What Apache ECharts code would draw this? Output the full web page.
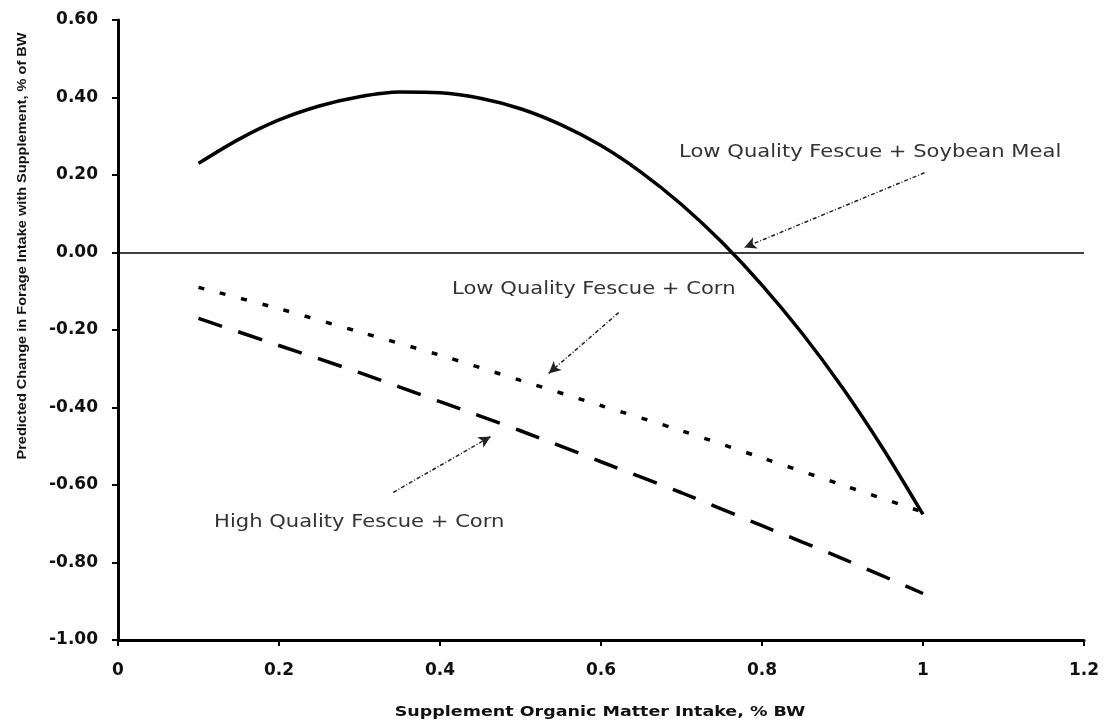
<!DOCTYPE html>
<html>
<head>
<meta charset="utf-8">
<script src="https://cdn.jsdelivr.net/npm/echarts@6/dist/echarts.min.js"></script>
<style>
html,body{margin:0;padding:0;background:#fff;}
#c{width:1103px;height:724px;}
</style>
</head>
<body>
<div id="c"></div>
<script>
// Supplement OM intake (% BW)
const xSoy = [0.10,0.15,0.20,0.25,0.30,0.35,0.40,0.45,0.50,0.55,0.60,0.65,0.70,0.75,0.80,0.85,0.90,0.95,1.00];
const soybean = [0.23,0.292,0.342,0.378,0.402,0.414,0.412,0.398,0.371,0.330,0.276,0.207,0.124,0.027,-0.084,-0.209,-0.349,-0.505,-0.676];
const xCorn = [0.1,0.2,0.3,0.4,0.5,0.6,0.7,0.8,0.9,1.0];
const lowCorn = [-0.09,-0.145,-0.205,-0.265,-0.33,-0.395,-0.46,-0.53,-0.60,-0.67];
const highCorn = [-0.17,-0.24,-0.31,-0.385,-0.46,-0.54,-0.62,-0.705,-0.79,-0.88];

const xTicks = ['0','0.2','0.4','0.6','0.8','1','1.2'];
const yTicks = ['-1.00','-0.80','-0.60','-0.40','-0.20','0.00','0.20','0.40','0.60'];

const xTitle = 'Supplement Organic Matter Intake, % BW';
const yTitle = 'Predicted Change in Forage Intake with Supplement, % of BW';

// annotation labels: [x, y, align] and arrows [x0,y0,x1,y1] in data units
const labelTexts = ['Low Quality Fescue + Soybean Meal','Low Quality Fescue + Corn','High Quality Fescue + Corn'];
const labelPos = [[0.697,0.258,'left'],[0.415,-0.095,'left'],[0.48,-0.697,'right']];
const arrows = [[1.002,0.206,0.778,0.013],[0.622,-0.155,0.535,-0.312],[0.342,-0.619,0.463,-0.475]];

const zip = (xs, ys) => xs.map((x,i)=>[x, ys[i]]);

const chart = echarts.init(document.getElementById('c'));
const tickFont = {color:'#111', fontFamily:'DejaVu Sans', fontWeight:'bold', fontSize:17};
const option = {
  animation: false,
  backgroundColor: '#fff',
  grid: {left:118, right:19, top:20, bottom:84, containLabel:false, outerBoundsMode:'none'},
  xAxis: {
    type:'value', min:0, max:1.2, interval:0.2,
    axisLine:{show:true, onZero:false, lineStyle:{color:'#000', width:3}},
    axisTick:{show:true, length:6, lineStyle:{color:'#000', width:2}},
    splitLine:{show:false},
    axisLabel:Object.assign({margin:22, formatter:(v)=>xTicks[Math.round(v/0.2)]}, tickFont)
  },
  yAxis: {
    type:'value', min:-1, max:0.6, interval:0.2,
    axisLine:{show:true, onZero:false, lineStyle:{color:'#000', width:3}},
    axisTick:{show:true, length:6, lineStyle:{color:'#000', width:2}},
    splitLine:{show:false},
    axisLabel:Object.assign({margin:20, formatter:(v)=>yTicks[Math.round((v+1)/0.2)]}, tickFont)
  },
  series: [
    {type:'line', name:'Low Quality Fescue + Soybean Meal', data:zip(xSoy, soybean), smooth:0.3,
     showSymbol:false, lineStyle:{color:'#000', width:3.5}, z:5,
     markLine:{silent:true, symbol:['none','none'], label:{show:false},
       lineStyle:{color:'#000', width:1.5, type:'solid'}, data:[{yAxis:0}]}},
    {type:'line', name:'Low Quality Fescue + Corn', data:zip(xCorn, lowCorn), smooth:0.3,
     showSymbol:false, lineStyle:{color:'#000', width:3.5, type:[6,16]}},
    {type:'line', name:'High Quality Fescue + Corn', data:zip(xCorn, highCorn), smooth:0.3,
     showSymbol:false, lineStyle:{color:'#000', width:3.5, type:[25,17]},
     markLine:{silent:true, symbol:['none','arrow'], symbolSize:[9,12], label:{show:false},
       lineStyle:{color:'#222', width:1.5, type:[4,2,1,2]},
       data: arrows.map(a=>[{coord:[a[0],a[1]]},{coord:[a[2],a[3]]}])}}
  ]
};
chart.setOption(option);

const g = labelTexts.map((t,i)=>{
  const p = chart.convertToPixel({gridIndex:0}, [labelPos[i][0], labelPos[i][1]]);
  return {type:'text', x:p[0], y:p[1], scaleX:1.24, style:{text:t, fill:'#333', font:'17px "DejaVu Sans"',
    textAlign:labelPos[i][2], textVerticalAlign:'middle'}};
});
g.push({type:'text', x:22, y:246, rotation:Math.PI/2, scaleX:1.12,
  style:{text:yTitle, fill:'#111', font:'bold 13px "Liberation Sans"', textAlign:'center', textVerticalAlign:'middle'}});
g.push({type:'text', x:600, y:712, scaleX:1.25,
  style:{text:xTitle, fill:'#111', font:'bold 14px "DejaVu Sans"', textAlign:'center', textVerticalAlign:'middle'}});
chart.setOption({graphic:g});
</script>
</body>
</html>
